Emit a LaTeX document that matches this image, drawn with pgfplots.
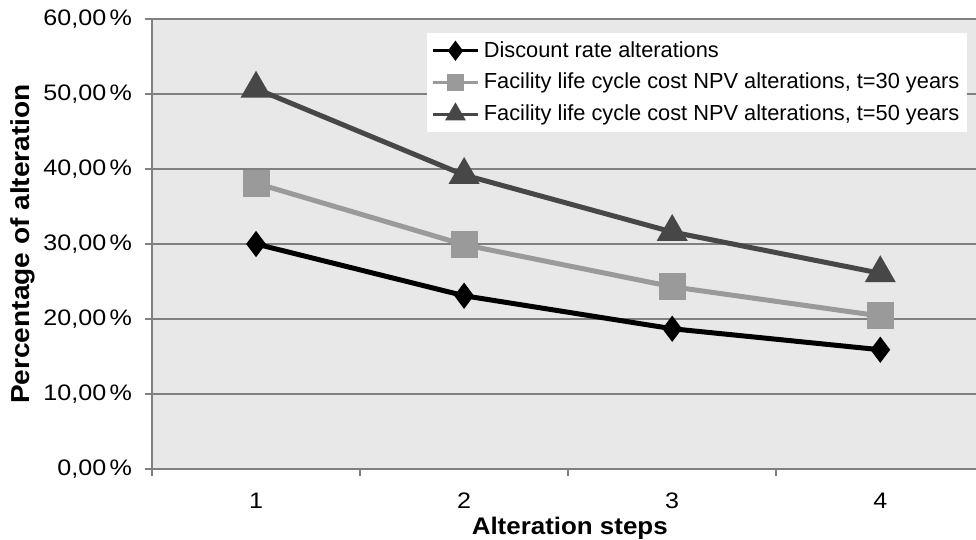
\documentclass[border=0pt]{standalone}
\usepackage{fontspec}
\setmainfont{Liberation Sans}
\newfontfamily\widesans[FakeStretch=1.08]{Liberation Sans}
\newfontfamily\tickfont[FakeStretch=1.12]{Liberation Sans}
\usepackage{pgfplots}
\pgfplotsset{compat=1.18}
\definecolor{bgc}{HTML}{E8E8E8}
\definecolor{gridc}{HTML}{808080}
\definecolor{lightser}{HTML}{9A9A9A}
\definecolor{darkser}{HTML}{474747}

\pgfplotsset{
  legmark/.style={legend image code/.code={%
      \draw[##1, line width=1.6pt] (0cm,0cm) -- (0.8cm,0cm);
      \draw[##1, mark size=#1] plot coordinates {(0.4cm,0cm)};}},
}

\begin{document}
\begin{tikzpicture}
\begin{axis}[
    scale only axis,
    width=412pt, height=225pt,
    xmin=0.5, xmax=4.46,
    ymin=0, ymax=60,
    axis x line=bottom, axis y line=left,
    axis line style={gridc, line width=0.8pt, -},
    axis background/.style={fill=bgc},
    xtick={1,2,3,4},
    xticklabels={1,2,3,4},
    major x tick style={draw=none},
    minor xtick={0.5,1.5,2.5,3.5},
    minor x tick style={gridc, line width=0.8pt},
    minor tick length=3.5pt,
    ytick={0,10,20,30,40,50,60},
    yticklabels={{0,00\hspace{0.15em}\%},{10,00\hspace{0.15em}\%},{20,00\hspace{0.15em}\%},{30,00\hspace{0.15em}\%},{40,00\hspace{0.15em}\%},{50,00\hspace{0.15em}\%},{60,00\hspace{0.15em}\%}},
    major tick length=3.5pt,
    tick align=outside,
    y tick style={gridc, line width=0.8pt},
    ymajorgrids,
    grid style={gridc, line width=0.8pt},
    ticklabel style={font=\tickfont\fontsize{11.2}{13}\selectfont},
    xticklabel style={yshift=-5pt},
    yticklabel shift=3pt,
    xlabel={\textbf{Alteration steps}},
    ylabel={\textbf{Percentage of alteration}},
    xlabel style={font=\widesans\fontsize{12}{14}\selectfont,
        at={(rel axis cs:0.507,-0.131)}, anchor=center},
    ylabel style={font=\widesans\fontsize{13}{15}\selectfont,
        at={(rel axis cs:-0.157,0.5)}, anchor=center},
    legend style={at={(rel axis cs:0.99,0.969)}, anchor=north east,
        fill=white, draw=none, font=\fontsize{10.9}{13}\selectfont,
        row sep=2.5pt, inner sep=2pt},
    legend cell align=left,
]
\addplot[black, line width=2.5pt, mark=diamond*, mark size=4.5pt, legmark=3pt]
    coordinates {(1,30.0) (2,23.1) (3,18.7) (4,15.9)};
\addlegendentry{Discount rate alterations}
\addplot[lightser, line width=2.5pt, mark=square*, mark size=5.5pt, legmark=2.8pt]
    coordinates {(1,38.1) (2,29.9) (3,24.3) (4,20.4)};
\addlegendentry{Facility life cycle cost NPV alterations, t=30 years}
\addplot[darkser, line width=2.5pt, mark=triangle*, mark size=6.5pt, legmark=3.5pt]
    coordinates {(1,50.7) (2,39.2) (3,31.6) (4,26.1)};
\addlegendentry{Facility life cycle cost NPV alterations, t=50 years}
\end{axis}
\pgfresetboundingbox
\useasboundingbox (-76pt,-35.5pt) rectangle (412pt,234.5pt);
\end{tikzpicture}
\end{document}
